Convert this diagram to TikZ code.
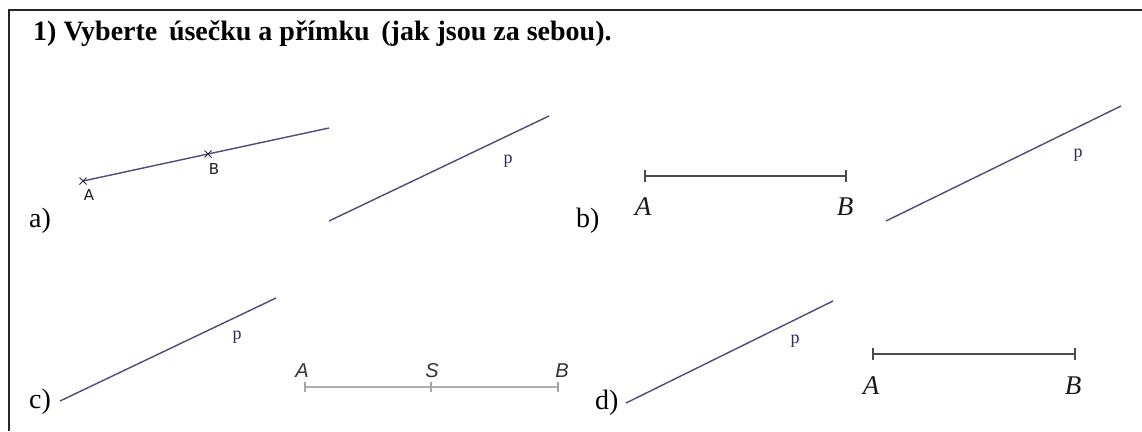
\documentclass[tikz,border=0pt]{standalone}
\usepackage{fontspec}
\usetikzlibrary{calc}
\setmainfont{Liberation Serif}
\newfontfamily\geofont{Liberation Serif}
\newfontfamily\arialfont{Liberation Sans}
\newfontfamily\smallsans{DejaVu Sans}
\begin{document}
\begin{tikzpicture}[x=1pt,y=-1pt,
  lbl/.style={inner sep=0pt,anchor=base west,font=\fontsize{28}{30}\selectfont},
  pline/.style={draw={rgb,255:red,75;green,75;blue,125},line width=1.4pt},
  plabel/.style={inner sep=0pt,anchor=base,text={rgb,255:red,40;green,40;blue,100},font=\geofont\fontsize{18}{19}\selectfont},
  seg/.style={draw={rgb,255:red,75;green,75;blue,75},line width=1.8pt},
  lightseg/.style={draw={rgb,255:red,175;green,175;blue,175},line width=1.8pt},
  tick/.style={draw={rgb,255:red,75;green,75;blue,75},line width=1.3pt},
  ltick/.style={draw={rgb,255:red,165;green,165;blue,165},line width=1.2pt},
  serifpt/.style={inner sep=0pt,anchor=base,font=\itshape\fontsize{27}{29}\selectfont,text={rgb,255:red,25;green,25;blue,25}},
  sanspt/.style={inner sep=0pt,anchor=base,font=\arialfont\itshape\fontsize{20}{22}\selectfont,text={rgb,255:red,50;green,50;blue,50}},
  geopt/.style={inner sep=0pt,anchor=base,font=\smallsans\fontsize{15}{16}\selectfont,text={rgb,255:red,30;green,30;blue,30}},
  cross/.style={draw={rgb,255:red,40;green,40;blue,60},line width=0.9pt}
]
\useasboundingbox (0,0) rectangle (1142,431);
\fill[white] (0,0) rectangle (1142,431);
% frame
\draw[line width=1.8pt,black!85] (9,431) -- (9,10) -- (1142,10);
% title
\node[inner sep=0pt,anchor=base west,font=\bfseries\fontsize{28}{30}\selectfont] (title) at (33,40) {1) Vyberte \,úsečku a přímku \,(jak jsou za sebou).};

% ---------- a)
\node[lbl] (la) at (29,227) {a)};
\coordinate (aA) at (83,181);
\coordinate (aB) at (208,154);
\coordinate (aE) at (329,128);
\draw[pline] (aA) -- (aB) -- (aE);
\draw[cross] ($(aA)+(-3.5,-3.5)$) -- ($(aA)+(3.5,3.5)$) ($(aA)+(-3.5,3.5)$) -- ($(aA)+(3.5,-3.5)$);
\draw[cross] ($(aB)+(-3.5,-3.5)$) -- ($(aB)+(3.5,3.5)$) ($(aB)+(-3.5,3.5)$) -- ($(aB)+(3.5,-3.5)$);
\node[geopt] (aAl) at (89,200) {A};
\node[geopt] (aBl) at (214,174) {B};
\coordinate (ap1) at (329,221);
\coordinate (ap2) at (549,116);
\draw[pline] (ap1) -- (ap2);
\node[plabel] (apl) at (508,163) {p};

% ---------- b)
\node[lbl] (lb) at (576,227) {b)};
\coordinate (bA) at (645,176);
\coordinate (bB) at (846,176);
\draw[seg] (bA) -- (bB);
\draw[tick] ($(bA)+(0,-6)$) -- ($(bA)+(0,6)$);
\draw[tick] ($(bB)+(0,-6)$) -- ($(bB)+(0,6)$);
\node[serifpt] (bAl) at (643,215) {A};
\node[serifpt] (bBl) at (845,215) {B};
\coordinate (bp1) at (886,221);
\coordinate (bp2) at (1121,106);
\draw[pline] (bp1) -- (bp2);
\node[plabel] (bpl) at (1078,157) {p};

% ---------- c)
\node[lbl] (lc) at (29,408) {c)};
\coordinate (cp1) at (60,401);
\coordinate (cp2) at (276,298);
\draw[pline] (cp1) -- (cp2);
\node[plabel] (cpl) at (237,339) {p};
\coordinate (cA) at (305,387);
\coordinate (cS) at (431,387);
\coordinate (cB) at (558,387);
\draw[lightseg] (cA) -- (cB);
\draw[ltick] ($(cA)+(0,-5)$) -- ($(cA)+(0,5)$);
\draw[ltick] ($(cS)+(0,-5)$) -- ($(cS)+(0,5)$);
\draw[ltick] ($(cB)+(0,-5)$) -- ($(cB)+(0,5)$);
\node[sanspt] (cAl) at (302,377) {A};
\node[sanspt] (cSl) at (432,377) {S};
\node[sanspt] (cBl) at (562,377) {B};

% ---------- d)
\node[lbl] (ld) at (595,409) {d)};
\coordinate (dp1) at (626,403);
\coordinate (dp2) at (833,301);
\draw[pline] (dp1) -- (dp2);
\node[plabel] (dpl) at (795,343) {p};
\coordinate (dA) at (873,354);
\coordinate (dB) at (1075,354);
\draw[seg] (dA) -- (dB);
\draw[tick] ($(dA)+(0,-6)$) -- ($(dA)+(0,6)$);
\draw[tick] ($(dB)+(0,-6)$) -- ($(dB)+(0,6)$);
\node[serifpt] (dAl) at (871,394) {A};
\node[serifpt] (dBl) at (1073,394) {B};
\end{tikzpicture}
\end{document}
